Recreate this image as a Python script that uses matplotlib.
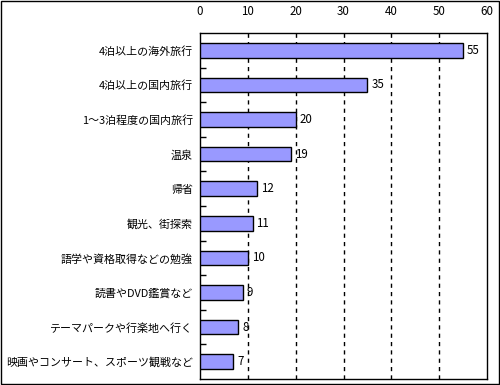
import matplotlib
matplotlib.use("Agg")
import matplotlib.pyplot as plt
from matplotlib.patches import Rectangle

plt.rcParams['font.family'] = ['Noto Sans CJK JP', 'DejaVu Sans']

categories = ["4泊以上の海外旅行", "4泊以上の国内旅行", "1〜3泊程度の国内旅行", "温泉", "帰省",
              "観光、街探索", "語学や資格取得などの勉強", "読書やDVD鑑賞など",
              "テーマパークや行楽地へ行く", "映画やコンサート、スポーツ観戦など"]
values = [55, 35, 20, 19, 12, 11, 10, 9, 8, 7]
xticks = [0, 10, 20, 30, 40, 50, 60]

fig = plt.figure(figsize=(5, 3.85), dpi=100)
ax = fig.add_axes([200/500, 1-379/385, 287/500, 346/385])

n = len(categories)
pos = list(range(n))
ax.barh(pos, values, height=0.42, color="#9999FF", edgecolor="black", linewidth=1, zorder=3)
for p, v in zip(pos, values):
    ax.text(v + 0.8, p, str(v), va="center", ha="left", fontsize=8.3)

ax.set_xlim(0, 60)
ax.set_ylim(n - 0.5, -0.5)
ax.xaxis.tick_top()
ax.set_xticks(xticks)
ax.set_xticklabels([str(t) for t in xticks], fontsize=8.3)
ax.tick_params(axis='x', length=0, pad=11)
for t in xticks[1:-1]:
    ax.axvline(t, color="black", linestyle=(0, (3, 3)), linewidth=1, zorder=1)

ax.set_yticks(pos)
ax.set_yticklabels(categories, fontsize=7.9)
ax.tick_params(axis='y', which='major', length=0, pad=5)
ax.set_yticks([i + 0.5 for i in range(n - 1)], minor=True)
ax.tick_params(axis='y', which='minor', direction='in', length=4, width=1, color='black')

for s in ax.spines.values():
    s.set_color("black")
    s.set_linewidth(1)

fig.patches.append(Rectangle((0.002, 0.003), 0.996, 0.994, transform=fig.transFigure,
                             fill=False, edgecolor="black", linewidth=1))

fig.savefig("out.png", dpi=100)
